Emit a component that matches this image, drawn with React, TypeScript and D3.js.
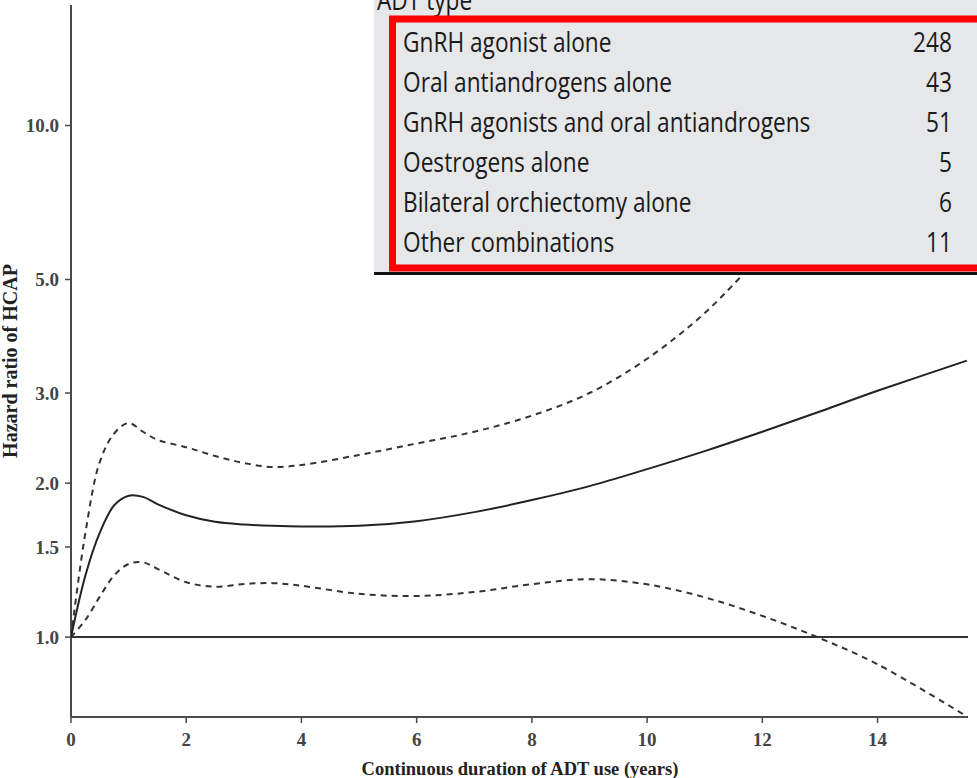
import React from "react";
import * as d3 from "d3";

const years = [0, 0.25, 0.5, 0.75, 1.0, 1.25, 1.5, 2, 2.5, 3, 3.5, 4, 5, 6, 7, 8, 9, 10, 11, 12, 13, 14, 15.55];
const hr = [1.0, 1.32, 1.6, 1.81, 1.89, 1.88, 1.82, 1.73, 1.68, 1.66, 1.65, 1.645, 1.65, 1.685, 1.755, 1.853, 1.973, 2.13, 2.31, 2.52, 2.76, 3.03, 3.47];
const upper = [1.0, 1.6, 2.2, 2.5, 2.62, 2.52, 2.43, 2.35, 2.26, 2.19, 2.15, 2.17, 2.27, 2.39, 2.52, 2.71, 3.0, 3.5, 4.3, 5.6, 7.2, 9.2, 13.0];
const lower = [1.0, 1.08, 1.2, 1.32, 1.39, 1.4, 1.36, 1.28, 1.255, 1.27, 1.275, 1.26, 1.215, 1.203, 1.225, 1.269, 1.298, 1.268, 1.196, 1.1, 0.995, 0.885, 0.70];

const yTicks = [1.0, 1.5, 2.0, 3.0, 5.0, 10.0];
const xTicks = [0, 2, 4, 6, 8, 10, 12, 14];

const adtTypes = [
  "GnRH agonist alone",
  "Oral antiandrogens alone",
  "GnRH agonists and oral antiandrogens",
  "Oestrogens alone",
  "Bilateral orchiectomy alone",
  "Other combinations",
];
const adtCounts = [248, 43, 51, 5, 6, 11];

const W = 977;
const H = 778;

export default function App() {
  const x = d3.scaleLinear().domain([0, 15.57]).range([71, 968]);
  const y = d3.scaleLog().domain([0.698, 17.2]).range([717, 5]);
  const line = (vals: number[]) =>
    d3
      .line<number>()
      .x((_, i) => x(years[i]))
      .y((v) => y(v))
      .curve(d3.curveCatmullRom.alpha(0.5))(vals) || "";

  const rowY = d3.scalePoint<string>().domain(adtTypes).range([52, 252]);
  const axisColor = "#4a4a4a";
  const serif = "'Liberation Serif', 'Times New Roman', serif";
  const sans = "'Open Sans', 'Noto Sans', sans-serif";
  const sx = 0.84;
  const fs = 27;

  return (
    <svg width={W} height={H} style={{ position: "absolute", left: 0, top: 0, background: "#fff" }}>
      <defs>
        <clipPath id="plotClip">
          <rect x={71} y={5} width={898} height={712} />
        </clipPath>
      </defs>
      {/* axes */}
      <line x1={71} x2={71} y1={5} y2={717} stroke={axisColor} strokeWidth={2} />
      <line x1={71} x2={968} y1={717} y2={717} stroke={axisColor} strokeWidth={2} />
      {yTicks.map((t) => (
        <g key={"y" + t}>
          <line x1={65} x2={71} y1={y(t)} y2={y(t)} stroke={axisColor} strokeWidth={1.5} />
          <text x={59} y={y(t)} dy="0.35em" textAnchor="end" fontFamily={serif} fontWeight="bold" fontSize={19} fill="#444">
            {d3.format(".1f")(t)}
          </text>
        </g>
      ))}
      {xTicks.map((t) => (
        <g key={"x" + t}>
          <line x1={x(t)} x2={x(t)} y1={717} y2={723} stroke={axisColor} strokeWidth={1.5} />
          <text x={x(t)} y={746} textAnchor="middle" fontFamily={serif} fontWeight="bold" fontSize={19} fill="#444">
            {t}
          </text>
        </g>
      ))}
      <text
        transform={`translate(17,${361}) rotate(-90)`}
        textAnchor="middle"
        fontFamily={serif}
        fontWeight="bold"
        fontSize={20}
        fill="#222"
      >
        Hazard ratio of HCAP
      </text>
      <text x={520} y={775} textAnchor="middle" fontFamily={serif} fontWeight="bold" fontSize={18.5} fill="#222">
        Continuous duration of ADT use (years)
      </text>

      {/* reference line */}
      <line x1={71} x2={968} y1={y(1)} y2={y(1)} stroke="#333" strokeWidth={2} />

      {/* curves */}
      <g clipPath="url(#plotClip)">
        <path d={line(upper)} fill="none" stroke="#333" strokeWidth={2} strokeDasharray="6,5" />
        <path d={line(lower)} fill="none" stroke="#333" strokeWidth={2} strokeDasharray="6,5" />
        <path d={line(hr)} fill="none" stroke="#222" strokeWidth={2} />
      </g>

      {/* inset table */}
      <rect x={374} y={-5} width={620} height={277} fill="#e6e7e9" />
      <text transform={`translate(377,10) scale(${sx},1)`} fontFamily={sans} fontSize={fs} fill="#1a1a1a">
        ADT type
      </text>
      <rect x={392.5} y={19} width={600} height={249} fill="none" stroke="#ff0000" strokeWidth={7} />
      <line x1={374} x2={977} y1={273.5} y2={273.5} stroke="#111" strokeWidth={3} />
      {adtTypes.map((name, i) => (
        <g key={name}>
          <text transform={`translate(403,${rowY(name)}) scale(${sx},1)`} fontFamily={sans} fontSize={fs} fill="#1a1a1a">
            {name}
          </text>
          <text
            transform={`translate(952,${rowY(name)}) scale(${sx},1)`}
            textAnchor="end"
            fontFamily={sans}
            fontSize={fs}
            fill="#1a1a1a"
          >
            {adtCounts[i]}
          </text>
        </g>
      ))}
    </svg>
  );
}
